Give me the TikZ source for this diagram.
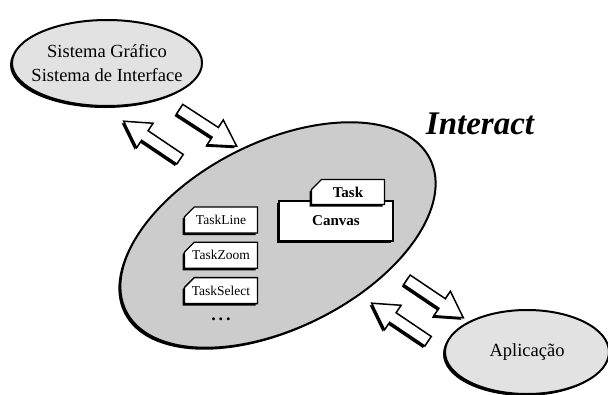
\documentclass[tikz,border=0pt]{standalone}
\usepackage{fontspec}
\setmainfont{Liberation Serif}
\usetikzlibrary{shapes,arrows,positioning,shadows}
\definecolor{pale}{RGB}{226, 226, 226}
\definecolor{shade}{RGB}{204, 204, 204}
\tikzset{shd/.style={drop shadow={shadow xshift=-2pt, shadow yshift=-2pt, opacity=1, fill=black}}}
\tikzstyle{sys} = [ellipse, draw=black, line width=2pt, fill=pale, shd, inner sep=0pt]
\tikzstyle{systext} = [align=center, font=\fontsize{18.5}{24}\selectfont]
\tikzstyle{core} = [ellipse, draw=black, line width=2pt, fill=shade, shd, minimum width=340pt, minimum height=186pt, rotate=26.6]
\tikzstyle{tbox} = [chamfered rectangle, chamfered rectangle corners=north west, chamfered rectangle sep=5pt, draw=black, line width=1.3pt, fill=white, shd, minimum width=73pt, minimum height=26pt, inner sep=0pt, font=\fontsize{13.5}{13.5}\selectfont]
\tikzstyle{cbox} = [rectangle, draw=black, line width=1.3pt, fill=white, shd, minimum width=114pt, minimum height=40pt, inner sep=0pt, font=\fontsize{15}{15}\selectfont\bfseries]
\tikzstyle{flow} = [single arrow, draw=black, line width=1.5pt, fill=white, shd, minimum height=68pt, inner sep=5pt, single arrow head extend=9pt, single arrow tip angle=60]

\begin{document}
\begin{tikzpicture}[x=1pt,y=-1pt]
\useasboundingbox (0,0) rectangle (608,394);

% systems =============================
\node[sys, minimum width=190pt, minimum height=86pt, label={[systext]center:Sistema Gráfico\\Sistema de Interface}] (sis) at (107,63) {};
\node[core] (inter) at (278,235) {};
\node[sys, minimum width=164pt, minimum height=84pt, label={[systext]center:Aplicação}] (apl) at (527,352) {};
\node[font=\fontsize{33}{33}\selectfont\bfseries\itshape] (title) at (480,124) {Interact};

% flows
\node[flow, rotate=-33] (toint) at (204,125) {};
\node[flow, rotate=146] (tosis) at (156,143) {};
\node[flow, rotate=-34] (toapl) at (431,296) {};
\node[flow, rotate=146] (fromapl) at (404,325) {};

% tasks
\node[tbox] (tline) at (221,220) {TaskLine};
\node[tbox, below=8pt of tline] (tzoom) {TaskZoom};
\node[tbox, below=8pt of tzoom] (tsel) {TaskSelect};
\node[font=\fontsize{18}{18}\selectfont\bfseries, below=10pt of tsel] (more) {.\hspace{3pt}.\hspace{3pt}.};

% canvas
\node[cbox] (canvas) at (336,221) {Canvas};
\node[cbox, chamfered rectangle, chamfered rectangle corners=north west, chamfered rectangle sep=5pt, minimum width=73pt, minimum height=25pt] (task) at (348,192) {Task};

\end{tikzpicture}
\end{document}
